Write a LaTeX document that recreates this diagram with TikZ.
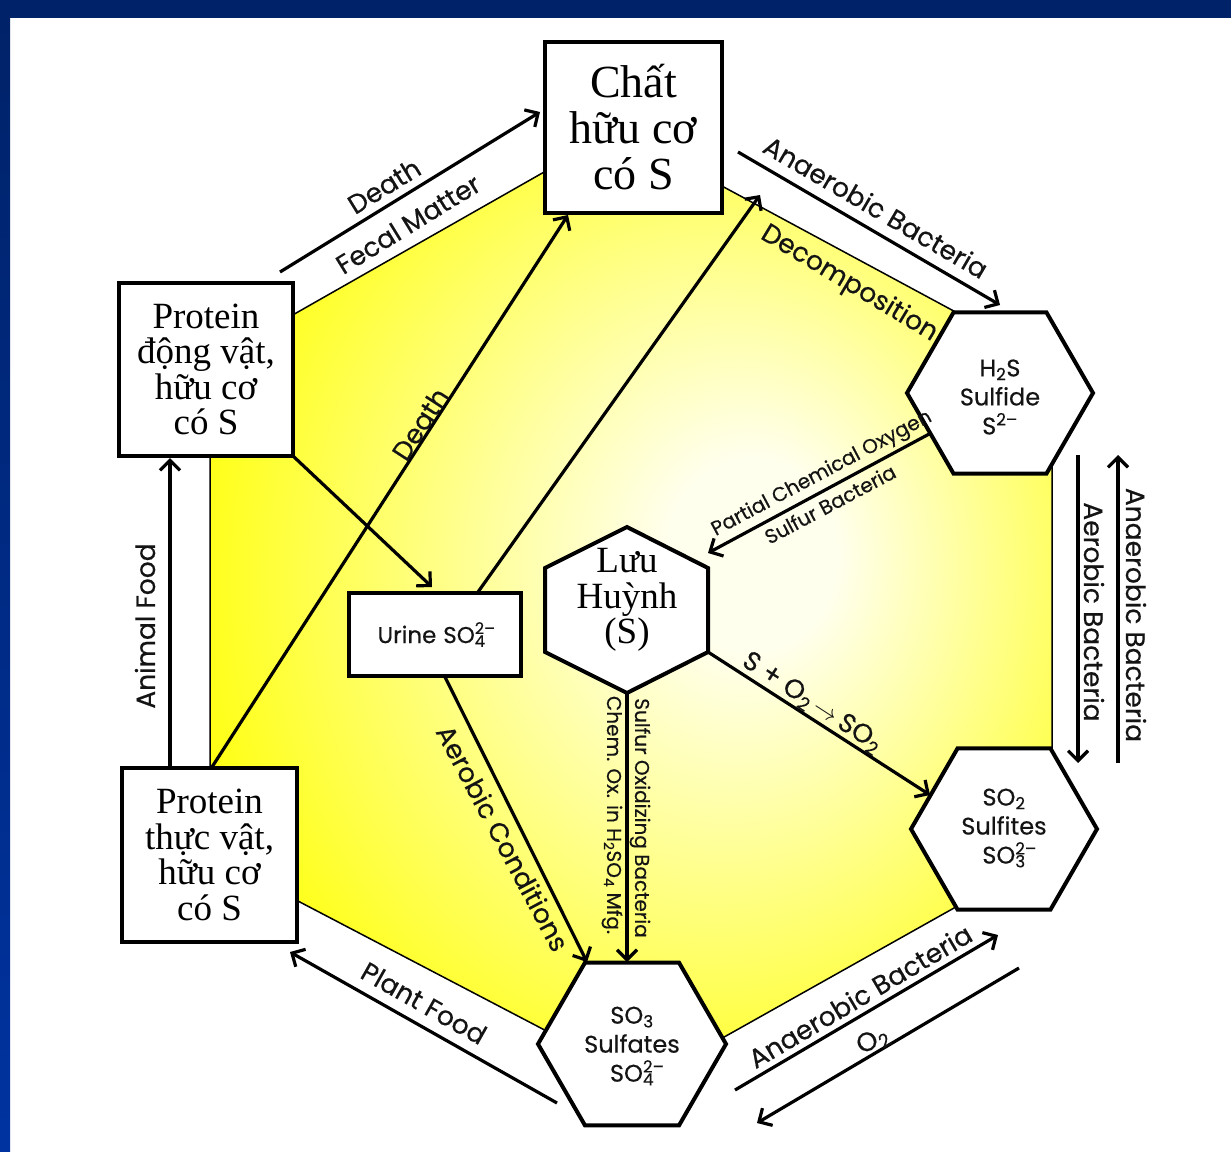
\documentclass[tikz,border=0pt]{standalone}
\usepackage{fontspec}
\setmainfont{Liberation Serif}
\newfontfamily\gothic{Poppins}[FakeBold=0.4]
\usetikzlibrary{arrows.meta}
\definecolor{navy}{RGB}{0,34,104}
\definecolor{bandblue}{RGB}{0,51,160}
\definecolor{ylo}{RGB}{255,255,0}
\definecolor{ylight}{RGB}{255,255,238}
\definecolor{ink}{RGB}{20,20,20}
\pgfdeclareradialshading{yshade}{\pgfpoint{8bp}{3bp}}{color(0bp)=(ylight); color(5bp)=(ylight); color(32bp)=(ylo); color(50bp)=(ylo)}
\newcommand\subsup[2]{\rlap{\textsuperscript{#2}}\textsubscript{#1}\hspace{0.3em}}
\newcommand\fhex[3]{\filldraw[hexfill] (#1+#3,#2) -- (#1+#3/2,#2-0.866*#3) -- (#1-#3/2,#2-0.866*#3) -- (#1-#3,#2) -- (#1-#3/2,#2+0.866*#3) -- (#1+#3/2,#2+0.866*#3) -- cycle;}
\tikzset{
  box/.style={draw=black, line width=4pt, fill=white, align=center, inner sep=0pt},
  hexfill/.style={draw=black, line width=4pt, fill=white, line join=miter},
  hextext/.style={align=center, font=\gothic\fontsize{24}{29}\selectfont, text=ink, inner sep=0pt},
  lbl/.style={font=\gothic\fontsize{26.5}{28}\selectfont, text=ink, inner sep=0pt},
  slbl/.style={font=\gothic\fontsize{20}{22}\selectfont, text=ink, inner sep=0pt},
  arr/.style={line width=3.2pt, draw=black, -{Straight Barb[length=10pt,width=20pt]}},
}
\begin{document}
\begin{tikzpicture}[x=1pt,y=-1pt]
\useasboundingbox (0,0) rectangle (1231,1151);
\fill[white] (0,0) rectangle (1231,1151);
\fill[navy] (0,0) rectangle (1231,18);
\shade[top color=navy, bottom color=bandblue] (0,0) rectangle (10,1151);

% yellow field
\shadedraw[shading=yshade, draw=black, line width=1.5pt]
  (210,362) -- (618,130) -- (1052,364) -- (1052,853) -- (644,1082) -- (210,855) -- cycle;

% hexagons
\fhex{1000}{393}{93}
\fhex{1004}{829}{93}
\fhex{632}{1044}{94}
\filldraw[hexfill] (627,527) -- (708,568) -- (708,652) -- (627,693) -- (545,652) -- (545,568) -- cycle;

% boxes
\node[box, minimum width=177pt, minimum height=171pt, font=\fontsize{46}{46}\selectfont] (A) at (633.5,127.5) {Chất\\hữu cơ\\có S};
\node[box, minimum width=174pt, minimum height=173pt, font=\fontsize{37}{35.5}\selectfont] (PA) at (206,369.5) {Protein\\động vật,\\hữu cơ\\có S};
\node[box, minimum width=175pt, minimum height=174pt, font=\fontsize{37}{35.5}\selectfont] (PP) at (209.5,855) {Protein\\thực vật,\\hữu cơ\\có S};
\node[box, minimum width=172pt, minimum height=83pt, font=\gothic\fontsize{23}{24}\selectfont, text=ink] (U) at (435,634.5) {Urine\hspace{0.3em}SO\subsup{4}{2–}};

% hexagon labels
\node[hextext] (H2S) at (1000,397) {H\textsubscript{2}S\\Sulfide\\S\textsuperscript{2–}};
\node[hextext] (SO2) at (1004,828) {SO\textsubscript{2}\\Sulfites\\SO\subsup{3}{2–}};
\node[hextext] (SO3) at (632,1046) {SO\textsubscript{3}\\Sulfates\\SO\subsup{4}{2–}};
\node[align=center, inner sep=0pt, font=\fontsize{37}{35.5}\selectfont] (S) at (627,600) {Lưu\\Huỳnh\\(S)};

% arrow end points
\coordinate (a1s) at (280,272);  \coordinate (a1e) at (540,112);
\coordinate (a2s) at (738,152);  \coordinate (a2e) at (1000,305);
\coordinate (a3s) at (212,767);  \coordinate (a3e) at (568,215);
\coordinate (a4s) at (478,592);  \coordinate (a4e) at (760,195);
\coordinate (a5s) at (293,456);  \coordinate (a5e) at (432,587);
\coordinate (a6s) at (445,677);  \coordinate (a6e) at (587,962);
\coordinate (a7s) at (627,693);  \coordinate (a7e) at (627,962);
\coordinate (a8s) at (708,652);  \coordinate (a8e) at (930,795);
\coordinate (a9s) at (931,433);  \coordinate (a9e) at (708,553);
\coordinate (a10s) at (1078,455); \coordinate (a10e) at (1078,763);
\coordinate (a11s) at (1118,763); \coordinate (a11e) at (1118,455);
\coordinate (a12s) at (735,1090); \coordinate (a12e) at (998,935);
\coordinate (a13s) at (1019,968); \coordinate (a13e) at (757,1123);
\coordinate (a14s) at (557,1103); \coordinate (a14e) at (290,952);
\coordinate (a15s) at (170,768); \coordinate (a15e) at (170,458);

\foreach \i in {1,...,15} {\draw[arr] (a\i s) -- (a\i e);}

% labels
\node[lbl, rotate=31.6] (l1) at (384,186) {Death};
\node[lbl, rotate=31.6] (l2) at (408,224) {Fecal Matter};
\node[lbl, rotate=-30.3] (l3) at (876,207) {Anaerobic Bacteria};
\node[lbl, rotate=-31] (l4) at (849,284) {Decomposition};
\node[slbl, rotate=28] (l5) at (822,474) {Partial Chemical Oxygen};
\node[slbl, rotate=28] (l6) at (830,504) {Sulfur Bacteria};
\node[lbl, rotate=-33] (l7) at (812,703) {S + O\textsubscript{2}\,$\rightarrow$\,SO\textsubscript{2}};
\node[lbl, rotate=-90] (l8) at (1094,612) {Aerobic Bacteria};
\node[lbl, rotate=-90] (l9) at (1136,615) {Anaerobic Bacteria};
\node[slbl, rotate=-90] (l10) at (640,818) {Sulfur Oxidizing Bacteria};
\node[slbl, rotate=-90] (l11) at (612,815) {Chem. Ox. in H\textsubscript{2}SO\textsubscript{4} Mfg.};
\node[lbl, rotate=-62] (l12) at (503,838) {Aerobic Conditions};
\node[lbl, rotate=30.6] (l13) at (860,996) {Anaerobic Bacteria};
\node[lbl, rotate=30.6] (l14) at (873,1041) {O\textsubscript{2}};
\node[lbl, rotate=-29.5] (l15) at (424,1003) {Plant Food};
\node[lbl, rotate=90] (l16) at (145,626) {Animal Food};
\node[lbl, rotate=57] (l17) at (420,424) {Death};
\end{tikzpicture}
\end{document}
